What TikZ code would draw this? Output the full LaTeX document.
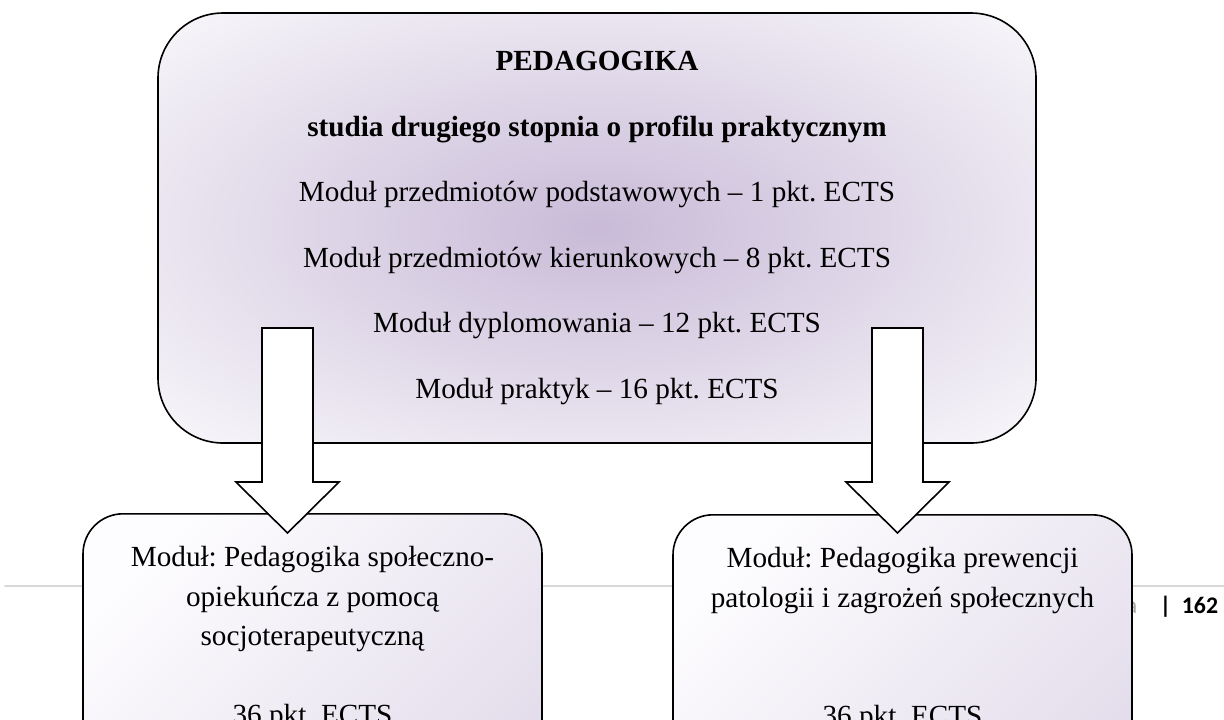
\documentclass[tikz,border=0pt]{standalone}
\usepackage{fontspec}
\setmainfont{Liberation Serif}
\newfontfamily\pagefont{Carlito}
\frenchspacing
\usetikzlibrary{positioning}
\definecolor{glowmid}{RGB}{201,187,216}
\definecolor{glowedge}{RGB}{245,243,248}
\definecolor{boxlight}{RGB}{253,252,254}
\definecolor{boxdark}{RGB}{228,222,236}
\definecolor{rulegray}{RGB}{217,217,217}
\definecolor{pagegray}{RGB}{166,166,166}
\pgfdeclareradialshading{glow}{\pgfpoint{0bp}{0bp}}{color(0bp)=(glowmid); color(33bp)=(glowedge); color(71bp)=(glowedge)}
\tikzset{
  mainbox/.style={draw,line width=0.8pt,rounded corners=32.5pt,shade,shading=glow,
    minimum width=439pt,minimum height=215pt,align=center,font=\fontsize{14.6}{32.8}\selectfont},
  modbox/.style={draw,line width=0.8pt,rounded corners=20pt,top color=boxlight,bottom color=boxdark,
    shading angle=45,minimum width=229.5pt,minimum height=150pt,anchor=north},
  modtext/.style={align=center,inner sep=0pt,anchor=north,font=\fontsize{14.6}{19.75}\selectfont},
  blockarr/.style={draw,fill=white,line width=0.8pt,line join=miter}
}
\begin{document}
\begin{tikzpicture}[x=0.5pt,y=-0.5pt,line join=round,line cap=round]
\def \picw{1224}\def \pich{719}\def \shaft{25.5}\def \head{51.5}
\useasboundingbox (0,0) rectangle (\picw,\pich);
\clip (0,0) rectangle (\picw,\pich);
\draw[rulegray,line width=1pt] (5,586)--(\picw,586);
\node[font=\pagefont\fontsize{11.9}{14}\selectfont,text=pagegray] (pagea) at (1131.5,607.5) {a};
\node[font=\pagefont\bfseries\fontsize{11.9}{14}\selectfont] (pageno) at (1189,607) {|\hspace{0.45em}162};
\node[mainbox] (ped) at (597,228) {\textbf{PEDAGOGIKA}\\
  \textbf{studia drugiego stopnia o profilu praktycznym}\\
  Moduł przedmiotów podstawowych -- 1 pkt. ECTS\\
  Moduł przedmiotów kierunkowych -- 8 pkt. ECTS\\
  Moduł dyplomowania -- 12 pkt. ECTS\\
  Moduł praktyk -- 16 pkt. ECTS};
\node[modbox] (social) at (312.5,513) {};
\node[modtext,below=16.5pt of social.north] (socialtxt) {Moduł: Pedagogika społeczno-\\
  opiekuńcza z pomocą\\ socjoterapeutyczną\\[19.75pt] 36 pkt. ECTS};
\node[modbox] (prev) at (902.5,514) {};
\node[modtext,below=16.5pt of prev.north] (prevtxt) {Moduł: Pedagogika prewencji\\
  patologii i zagrożeń społecznych\\[39.5pt] 36 pkt. ECTS};
\foreach \ax/\nm in {287.5/social,897.5/prev}{
  \coordinate (\nm-from) at (\ax,328);
  \coordinate (\nm-to) at (\ax,533);
  \draw[blockarr] (\nm-from) ++(-\shaft,0) -- ++(0,154) -- ++(\shaft-\head,0) -- (\nm-to)
    -- ++(\head,-51) -- ++(\shaft-\head,0) -- ++(0,-154) -- cycle;
}
\end{tikzpicture}
\end{document}
